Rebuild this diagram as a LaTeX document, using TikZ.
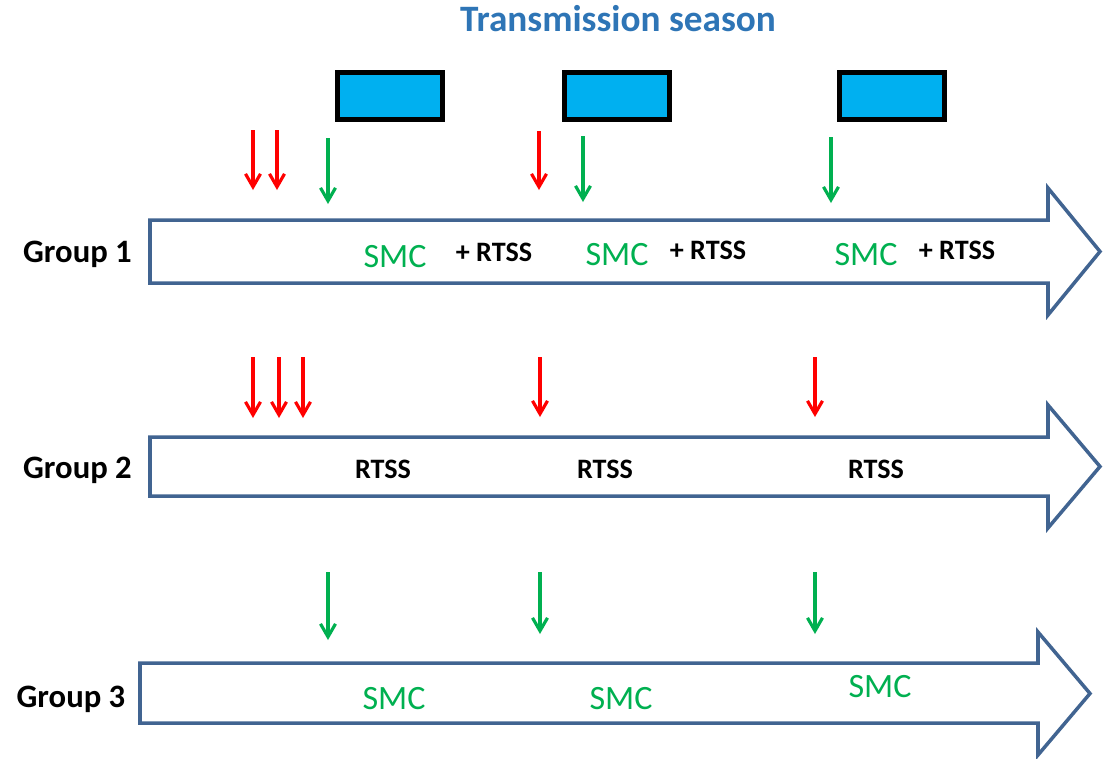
\documentclass[tikz,border=0pt]{standalone}
\usepackage{fontspec}
\setmainfont{Carlito}
\usepackage{xcolor}
\usepackage{tikz}
\usetikzlibrary{arrows.meta}
\definecolor{timelineblue}{RGB}{65,100,145}
\definecolor{titleblue}{RGB}{46,117,182}
\definecolor{boxblue}{RGB}{0,176,240}
\definecolor{smcgreen}{RGB}{0,176,80}

\begin{document}
\begin{tikzpicture}[
    timeline/.style={draw=timelineblue,line width=1pt,line join=miter},
    seasonbox/.style={draw=black,fill=boxblue,line width=1.4pt,minimum width=1.05cm,minimum height=0.47cm,inner sep=0pt},
    rtssarrow/.style={red,line width=0.9pt,-{Straight Barb[length=1.3mm,width=1.5mm]}},
    smcarrow/.style={smcgreen,line width=0.9pt,-{Straight Barb[length=1.3mm,width=1.5mm]}},
    grouplabel/.style={anchor=base,font=\fontsize{9.3}{11}\selectfont\bfseries},
    smclabel/.style={anchor=base,smcgreen,font=\fontsize{9.7}{11}\selectfont},
    rtsslabel/.style={anchor=base,font=\fontsize{8}{10}\selectfont\bfseries}
]
    \useasboundingbox (0,0) rectangle (11.07,-7.58);

    % title and the three season boxes
    \node[anchor=base,titleblue,font=\fontsize{10.6}{12}\selectfont\bfseries] (title) at (6.18,-0.31) {Transmission season};
    \node[seasonbox] (box1) at (3.90,-0.96) {};
    \node[seasonbox] (box2) at (6.17,-0.96) {};
    \node[seasonbox] (box3) at (8.92,-0.96) {};

    % group 1
    \coordinate (g1r1) at (2.53,-1.30);
    \coordinate (g1r2) at (2.77,-1.30);
    \coordinate (g1r3) at (5.39,-1.31);
    \coordinate (g1s1) at (3.28,-1.38);
    \coordinate (g1s2) at (5.83,-1.36);
    \coordinate (g1s3) at (8.31,-1.37);
    \draw[rtssarrow] (g1r1) -- ++(0,-0.60);
    \draw[rtssarrow] (g1r2) -- ++(0,-0.60);
    \draw[rtssarrow] (g1r3) -- ++(0,-0.59);
    \draw[smcarrow] (g1s1) -- ++(0,-0.66);
    \draw[smcarrow] (g1s2) -- ++(0,-0.66);
    \draw[smcarrow] (g1s3) -- ++(0,-0.66);
    \draw[timeline] (1.50,-2.20) -- (10.48,-2.20) -- (10.48,-1.88) -- (11.00,-2.515)
        -- (10.48,-3.15) -- (10.48,-2.83) -- (1.50,-2.83) -- cycle;
    \node[grouplabel] (group1) at (0.775,-2.62) {Group 1};
    \node[smclabel] (g1smc1) at (3.95,-2.67) {SMC};
    \node[rtsslabel] (g1rtss1) at (4.94,-2.61) {+ RTSS};
    \node[smclabel] (g1smc2) at (6.17,-2.65) {SMC};
    \node[rtsslabel] (g1rtss2) at (7.08,-2.59) {+ RTSS};
    \node[smclabel] (g1smc3) at (8.66,-2.65) {SMC};
    \node[rtsslabel] (g1rtss3) at (9.57,-2.59) {+ RTSS};

    % group 2
    \coordinate (g2r1) at (2.53,-3.57);
    \coordinate (g2r2) at (2.79,-3.57);
    \coordinate (g2r3) at (3.03,-3.57);
    \coordinate (g2r4) at (5.40,-3.57);
    \coordinate (g2r5) at (8.15,-3.57);
    \draw[rtssarrow] (g2r1) -- ++(0,-0.61);
    \draw[rtssarrow] (g2r2) -- ++(0,-0.61);
    \draw[rtssarrow] (g2r3) -- ++(0,-0.61);
    \draw[rtssarrow] (g2r4) -- ++(0,-0.60);
    \draw[rtssarrow] (g2r5) -- ++(0,-0.60);
    \draw[timeline] (1.50,-4.37) -- (10.48,-4.37) -- (10.48,-4.05) -- (11.00,-4.665)
        -- (10.48,-5.28) -- (10.48,-4.96) -- (1.50,-4.96) -- cycle;
    \node[grouplabel] (group2) at (0.775,-4.78) {Group 2};
    \node[rtsslabel] (g2rtss1) at (3.83,-4.78) {RTSS};
    \node[rtsslabel] (g2rtss2) at (6.05,-4.78) {RTSS};
    \node[rtsslabel] (g2rtss3) at (8.76,-4.78) {RTSS};

    % group 3
    \coordinate (g3s1) at (3.28,-5.72);
    \coordinate (g3s2) at (5.40,-5.72);
    \coordinate (g3s3) at (8.15,-5.72);
    \draw[smcarrow] (g3s1) -- ++(0,-0.68);
    \draw[smcarrow] (g3s2) -- ++(0,-0.62);
    \draw[smcarrow] (g3s3) -- ++(0,-0.62);
    \draw[timeline] (1.40,-6.63) -- (10.38,-6.63) -- (10.38,-6.32) -- (10.90,-6.935)
        -- (10.38,-7.55) -- (10.38,-7.23) -- (1.40,-7.23) -- cycle;
    \node[grouplabel] (group3) at (0.71,-7.07) {Group 3};
    \node[smclabel] (g3smc1) at (3.94,-7.09) {SMC};
    \node[smclabel] (g3smc2) at (6.21,-7.09) {SMC};
    \node[smclabel] (g3smc3) at (8.80,-6.97) {SMC};
\end{tikzpicture}
\end{document}
